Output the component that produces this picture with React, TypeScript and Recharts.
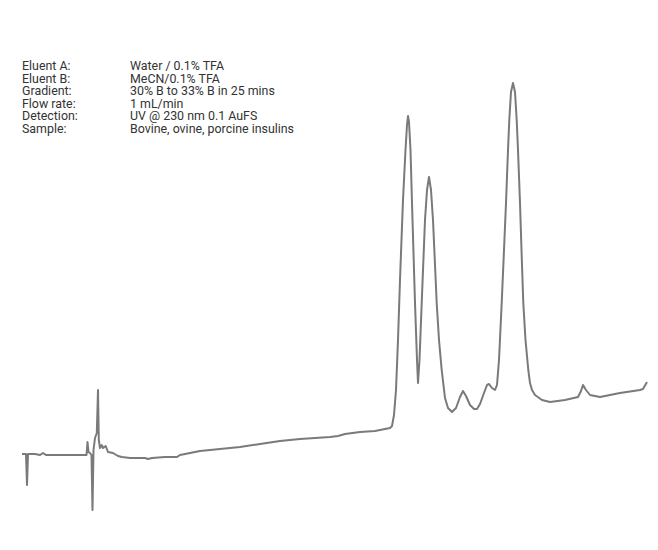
import { Line, LineChart, XAxis, YAxis } from "recharts";

const TRACE = "#7a7a7a";
const INK = "#333333";

// Method conditions printed top-left.
const LABELS = ["Eluent A:", "Eluent B:", "Gradient:", "Flow rate:", "Detection:", "Sample:"];
const VALUES = [
  "Water / 0.1% TFA",
  "MeCN/0.1% TFA",
  "30% B to 33% B in 25 mins",
  "1 mL/min",
  "UV @ 230 nm 0.1 AuFS",
  "Bovine, ovine, porcine insulins",
];

// Trace: time (arbitrary units) and detector signal (baseline = 0).
const TIME = [
  0, 4, 5, 6, 13, 18, 21, 24, 38, 53, 64.5, 65.5, 66.5, 68, 69.5, 70.5, 71.5, 73, 74.8, 76,
  76.8, 78, 79.7, 81, 83.7, 86, 91, 96, 100, 108, 123, 126, 130, 143, 155, 158, 178, 198,
  218, 238, 258, 278, 293, 308, 316, 323, 338, 353, 363, 368, 370, 372, 374, 376, 378, 381,
  383.5, 385, 386, 387, 388.5, 390, 393, 395, 396, 397.5, 399.7, 403, 405, 407, 409, 411,
  414.7, 417, 419.7, 423, 426, 430, 434, 438, 441, 444, 448, 452, 455, 458, 462, 465, 467,
  470, 473, 475, 477, 479.7, 482, 484, 486, 487.3, 489, 491, 493, 494.7, 496, 498, 499.5,
  501.3, 503.5, 506.3, 508, 510, 513, 520, 528, 543, 556, 559, 561, 564, 568, 578, 598,
  618, 621, 625,
];
const SIGNAL = [
  0, 0, -31, 0, 0, -1, 1, -1, -1, -1, -1, 12, 2, 1, -1, -56, 4, 16, 21, 64, 14, 6, 9, 6, 8,
  2, 1, -2, -3, -4, -4, -5, -4, -3, -3, -1, 3, 5, 7, 10, 13, 15, 16, 17, 18, 20, 22, 23, 25,
  26, 28, 39, 64, 114, 174, 254, 304, 329, 338, 332, 304, 251, 151, 94, 71, 94, 151, 234,
  264, 277, 264, 234, 151, 114, 84, 56, 46, 42, 46, 57, 63, 58, 49, 45, 45, 50, 61, 69, 70,
  66, 64, 69, 94, 151, 204, 251, 304, 334, 362, 371, 362, 334, 304, 251, 204, 151, 114, 84,
  71, 64, 59, 54, 52, 54, 57, 63, 69, 64, 59, 57, 61, 64, 65, 72,
];

const data = TIME.map((t, i) => ({ t, signal: SIGNAL[i] }));

export default function App() {
  return (
    <div
      style={{
        position: "absolute",
        left: 0,
        top: 0,
        width: 658,
        height: 550,
        background: "#ffffff",
      }}
    >
      <LineChart width={658} height={550} data={data} margin={{ top: 0, right: 0, bottom: 0, left: 0 }}>
        <XAxis dataKey="t" type="number" domain={[-22, 636]} hide allowDataOverflow />
        <YAxis type="number" domain={[-96, 454]} hide allowDataOverflow />
        <Line
          type="linear"
          dataKey="signal"
          stroke={TRACE}
          strokeWidth={2}
          strokeLinejoin="round"
          dot={false}
          activeDot={false}
          isAnimationActive={false}
        />
      </LineChart>
      <div
        style={{
          position: "absolute",
          left: 22,
          top: 60,
          fontFamily: "Roboto, sans-serif",
          fontSize: 12.4,
          lineHeight: "12.6px",
          color: INK,
        }}
      >
        {LABELS.map((label, i) => (
          <div key={label} style={{ display: "flex" }}>
            <span style={{ width: 108 }}>{label}</span>
            <span>{VALUES[i]}</span>
          </div>
        ))}
      </div>
    </div>
  );
}
